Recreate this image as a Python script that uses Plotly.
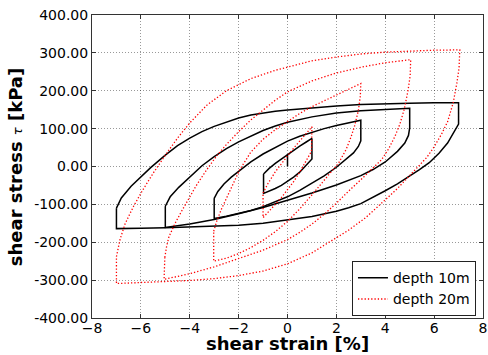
import plotly.graph_objects as go

# ---------------- depth 10 m (black, solid) ----------------
# each loop: upper branch from left reversal up to right tip, then lower branch from right (after drop) to left tip
d10_initial_strain = [0.0, 0.0]
d10_initial_stress = [0.0, 32.0]

d10_loop1_strain = [-0.98, -0.75, -0.5, -0.25, 0.0, 0.25, 0.5, 0.75, 1.0,
                    1.0, 0.8, 0.5, 0.25, 0.0, -0.25, -0.5, -0.75, -0.98]
d10_loop1_stress = [-20, -5, 8, 20, 32, 43, 54, 64, 74,
                    20, 6, -15, -28, -40, -50, -58, -65, -71]

d10_loop3_strain = [-3.0, -2.85, -2.6, -2.3, -2.0, -1.5, -1.0, -0.5, 0.0, 0.5, 1.0, 1.5, 2.0, 2.5, 3.0,
                    3.0, 2.9, 2.7, 2.35, 2.0, 1.5, 1.0, 0.5, 0.0, -0.5, -1.0, -1.5, -2.0, -2.5, -3.0]
d10_loop3_stress = [-84, -66, -46, -28, -13, 12, 33, 51, 67, 80, 91, 100, 108, 115, 122,
                    68, 53, 36, 16, -2, -25, -45, -63, -80, -94, -106, -116, -124, -131, -137]

d10_loop5_strain = [-5.0, -4.8, -4.45, -3.9, -3.5, -3.0, -2.5, -2.0, -1.5, -1.0, -0.5, 0.0, 1.0, 2.0, 3.0, 4.0, 5.0,
                    5.0, 4.95, 4.8, 4.5, 4.0, 3.5, 3.0, 2.5, 2.0, 1.0, 0.0, -1.0, -2.0, -3.0, -4.0, -5.0]
d10_loop5_stress = [-105, -80, -55, -22, 2, 26, 47, 65, 81, 95, 107, 117, 131, 141, 147, 151, 154,
                    102, 82, 62, 40, 12, -8, -24, -37, -49, -70, -90, -108, -125, -140, -152, -161]

d10_loop7_strain = [-7.0, -6.8, -6.4, -6.0, -5.6, -5.0, -4.5, -4.0, -3.5, -3.0, -2.5, -2.0, -1.5, -1.0, -0.5, 0.0,
                    1.0, 2.0, 3.0, 4.0, 5.0, 6.0, 7.0,
                    7.0, 6.8, 6.55, 6.2, 5.8, 5.4, 5.0, 4.5, 4.0, 3.5, 3.0, 2.5, 2.0, 1.0, 0.0,
                    -1.0, -2.0, -3.0, -4.0, -5.0, -6.0, -7.0]
d10_loop7_stress = [-110, -83, -52, -27, -3, 30, 55, 75, 92, 106, 118, 128, 136, 142, 146, 149,
                    155, 160, 164, 166, 167, 168, 168,
                    112, 88, 62, 35, 10, -8, -25, -46, -64, -82, -98, -109, -118, -132, -142,
                    -150, -155, -158, -160, -162, -163, -164]

# ---------------- depth 20 m (red, dotted) ----------------
d20_loop1_strain = [-1.0, -0.8, -0.5, -0.25, 0.0, 0.25, 0.5, 0.75, 1.0,
                    0.98, 0.8, 0.5, 0.25, 0.0, -0.25, -0.5, -0.75, -1.0]
d20_loop1_stress = [-70, -45, -14, 8, 28, 48, 68, 87, 105,
                    40, 18, -15, -40, -62, -82, -100, -118, -135]

d20_loop3_strain = [-3.02, -2.9, -2.7, -2.5, -2.2, -1.95, -1.5, -1.0, -0.5, 0.0, 0.5, 1.0, 1.5, 2.0, 2.5, 3.0,
                    2.98, 2.9, 2.75, 2.6, 2.4, 2.1, 1.8, 1.4, 1.0, 0.5, 0.0, -0.5, -1.0, -1.5, -2.0, -2.5, -3.02]
d20_loop3_stress = [-171, -145, -112, -84, -42, -8, 38, 72, 97, 118, 140, 158, 174, 189, 204, 219,
                    185, 148, 108, 78, 45, 10, -14, -45, -75, -112, -145, -172, -195, -214, -230, -242, -250]

d20_loop5_strain = [-5.02, -4.95, -4.85, -4.6, -4.35, -4.05, -3.75, -3.3, -2.9, -2.5, -2.0, -1.5, -1.0, -0.5, 0.0,
                    1.0, 2.0, 3.0, 4.0, 5.04,
                    5.02, 4.93, 4.78, 4.6, 4.4, 4.15, 3.85, 3.45, 3.0, 2.5, 2.0, 1.5, 1.0, 0.5, 0.0,
                    -1.0, -2.0, -3.0, -4.0, -5.05]
d20_loop5_stress = [-240, -212, -185, -150, -120, -85, -52, -8, 28, 58, 92, 123, 150, 175, 197,
                    226, 247, 262, 274, 282,
                    240, 200, 152, 112, 80, 48, 18, -8, -35, -65, -97, -126, -152, -174, -193,
                    -221, -244, -265, -283, -298]

d20_loop7_strain = [-7.0, -6.85, -6.65, -6.3, -5.95, -5.5, -5.0, -4.5, -4.0, -3.3, -2.5, -1.5, -0.5, 0.2,
                    1.0, 2.0, 3.0, 4.0, 5.0, 6.0, 7.05,
                    7.02, 6.93, 6.78, 6.55, 6.3, 6.0, 5.7, 5.35, 4.95, 4.5, 4.0, 3.2, 2.5, 2.0, 1.0, 0.0,
                    -1.0, -2.0, -3.0, -4.0, -5.0, -6.0, -7.0]
d20_loop7_stress = [-238, -192, -152, -105, -65, -18, 30, 75, 115, 162, 200, 232, 254, 266,
                    279, 289, 297, 302, 305, 307, 308,
                    260, 220, 168, 118, 85, 52, 24, 0, -28, -58, -88, -135, -168, -188, -228, -257,
                    -276, -288, -296, -301, -304, -307, -309]

x_tick_vals = [-8, -6, -4, -2, 0, 2, 4, 6, 8]
x_tick_text = ["\u22128", "\u22126", "\u22124", "\u22122", "0", "2", "4", "6", "8"]
y_tick_vals = [-400, -300, -200, -100, 0, 100, 200, 300, 400]
y_tick_text = ["-400.00", "-300.00", "-200.00", "-100.00", "0.00", "100.00", "200.00", "300.00", "400.00"]


def build_path(loops, initial=None):
    xs, ys = [], []
    if initial is not None:
        xs += list(initial[0]) + [None]
        ys += list(initial[1]) + [None]
    for sx, sy in loops:
        xs += list(sx) + [sx[0], None]
        ys += list(sy) + [sy[0], None]
    return xs, ys


x10, y10 = build_path([(d10_loop1_strain, d10_loop1_stress),
                       (d10_loop3_strain, d10_loop3_stress),
                       (d10_loop5_strain, d10_loop5_stress),
                       (d10_loop7_strain, d10_loop7_stress)],
                      initial=(d10_initial_strain, d10_initial_stress))
x20, y20 = build_path([(d20_loop1_strain, d20_loop1_stress),
                       (d20_loop3_strain, d20_loop3_stress),
                       (d20_loop5_strain, d20_loop5_stress),
                       (d20_loop7_strain, d20_loop7_stress)])

FONT = "DejaVu Sans"

fig = go.Figure()
fig.add_trace(go.Scatter(x=x10, y=y10, mode="lines", name="depth 10m",
                         line=dict(color="black", width=1.5), connectgaps=False))
fig.add_trace(go.Scatter(x=x20, y=y20, mode="lines", name="depth 20m",
                         line=dict(color="red", width=1.3, dash="1.3px,2px"), connectgaps=False))

axis_common = dict(
    showgrid=True, gridcolor="rgba(0,0,0,0.4)", griddash="1px,2px", gridwidth=0.8,
    zeroline=False, showline=True, linecolor="#333", linewidth=1, mirror="ticks",
    ticks="inside", ticklen=4, tickcolor="#333", automargin=False,
    tickfont=dict(family=FONT, size=14, color="black"),
)

fig.update_xaxes(range=[-8, 8], tickmode="array", tickvals=x_tick_vals, ticktext=x_tick_text,
                 ticklabelstandoff=-3, **axis_common)
fig.update_yaxes(range=[-400, 400], tickmode="array", tickvals=y_tick_vals, ticktext=y_tick_text, **axis_common)

fig.add_annotation(text="<b>shear strain [%]</b>", xref="paper", yref="paper", x=0.5, y=-0.121,
                   xanchor="center", yanchor="bottom", showarrow=False, borderpad=0,
                   font=dict(family=FONT, size=18, color="black"))
fig.add_annotation(text="<b>shear stress </b><span style=\"font-size:13px\"><i>\u03c4</i></span><b> [kPa]</b>",
                   xref="paper", yref="paper", x=-0.195, y=0.5, textangle=-90,
                   xanchor="center", yanchor="middle", showarrow=False,
                   font=dict(family=FONT, size=18, color="black"))

fig.update_layout(
    width=488, height=355,
    margin=dict(l=92, r=5, t=15, b=37, autoexpand=False),
    paper_bgcolor="white", plot_bgcolor="white",
    font=dict(family=FONT, color="black"),
    legend=dict(x=0.982, y=0.006, xanchor="right", yanchor="bottom",
                bgcolor="white", bordercolor="#222", borderwidth=1,
                font=dict(family=FONT, size=14, color="black"),
                itemwidth=30, tracegroupgap=0),
    showlegend=True,
)

fig.write_html("out.html", config={"displayModeBar": False},
               post_script="document.body.style.margin='0px';document.body.style.overflow='hidden';")
